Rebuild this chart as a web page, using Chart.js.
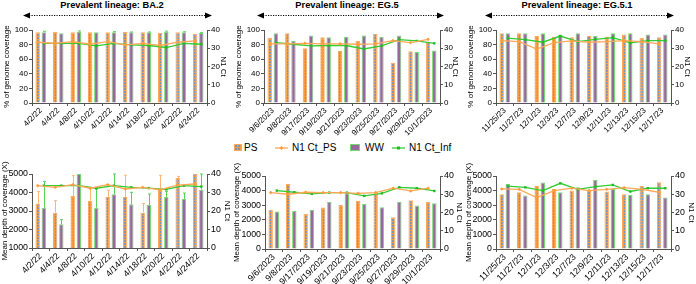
<!DOCTYPE html>
<html><head><meta charset="utf-8">
<script src="https://cdn.jsdelivr.net/npm/chart.js@4"></script>
<style>
body{margin:0;width:696px;height:284px;position:relative;overflow:hidden;background:#fff;font-family:"Liberation Sans",Arial,sans-serif;}
canvas{position:absolute;}
.title{position:absolute;top:0px;font-weight:bold;font-size:9.3px;white-space:nowrap;transform:translateX(-50%);color:#000;}
.lg{position:absolute;font-size:10px;white-space:nowrap;color:#000;line-height:10px;}
svg{position:absolute;left:0;top:0;}
</style></head>
<body>
<svg width="696" height="284" id="deco"></svg>
<div class="title" style="left:112px">Prevalent lineage: BA.2</div>
<div class="title" style="left:347px">Prevalent lineage: EG.5</div>
<div class="title" style="left:577px">Prevalent lineage: EG.5.1</div>
<div class="lg" style="left:244px;top:143px">PS</div>
<div class="lg" style="left:292px;top:143px">N1 Ct_PS</div>
<div class="lg" style="left:365px;top:143px">WW</div>
<div class="lg" style="left:409px;top:143px">N1 Ct_Inf</div>
<script>
// ---------------- DATA ----------------
const datesBA2 = ['4/2/22','4/4/22','4/8/22','4/10/22','4/12/22','4/14/22','4/18/22','4/20/22','4/22/22','4/24/22'];
const datesEG5 = ['9/6/2023','9/8/2023','9/17/2023','9/19/2023','9/21/2023','9/23/2023','9/25/2023','9/27/2023','9/29/2023','10/1/2023'];
const datesEG51 = ['11/25/23','11/27/23','12/1/23','12/3/23','12/7/23','12/9/23','12/11/23','12/13/23','12/15/23','12/17/23'];

// genome coverage (%)
const covPS_BA2 = [96.8,97.7,96.8,96.8,96.8,97.7,96.8,95.9,96.8,95];
const covWW_BA2 = [96.8,95.5,97.7,96.8,96.8,96.8,96.8,97.7,96.8,95.9];
const covWWerr_BA2 = [1.5,0,1,0,1,0.5,0.5,0.8,0.8,0.5];
const ctPS_cov_BA2 = [33.3,32.7,33.6,32.2,33.6,31.8,32.7,31.5,33.3,34];
const ctInf_cov_BA2 = [32.7,32.7,32.7,31.3,32.7,31.8,31.5,30.4,32.7,32.2];

const covPS_EG5 = [89.5,95.5,75,90,71.4,85,95,55,71,84];
const covWW_EG5 = [95.5,85,92.3,90,90.9,92.3,90.9,92.3,70,72];
const ctPS_cov_EG5 = [32.4,32.4,32.7,32.4,32.4,32.2,32.4,34.2,33.1,34.9];
const ctInf_cov_EG5 = [33.1,32.2,31.3,31.5,31.5,29.6,31.3,34.7,34,32.7];

const covPS_EG51 = [95.5,95.5,91.8,90.9,90,91.8,90.9,94,89.5,90];
const covWW_EG51 = [95.5,95.5,95.5,93,95.5,91.8,95.5,95.5,94,94];
const ctPS_cov_EG51 = [34.2,33.6,29.5,33.1,34,33.3,33.6,34.2,33.6,32.4];
const ctInf_cov_EG51 = [35.5,34.7,33.3,36.7,33.6,34.9,35.8,32.9,34.2,34.2];

// mean depth of coverage (X)
const depPS_BA2 = [3400,2910,3810,3560,3760,3760,2910,4150,4780,5000];
const depWW_BA2 = [3180,2280,5000,3180,3900,3360,3320,3760,3650,4150];
const depPSerr_BA2 = [660,650,1100,650,360,1170,490,780,90,0];
const depWWerr_BA2 = [1420,250,0,1010,1100,650,600,300,320,850];
const ctPS_dep_BA2 = [33.7,32.8,34.2,32.3,34.2,31.9,32.8,31.5,34,34.6];
const ctInf_dep_BA2 = [33.7,33.7,33.7,32.3,33.7,32.8,32.4,31.7,33.7,33.2];

const depPS_EG5 = [2680,4450,2410,2840,3020,3300,3820,2180,3340,3230];
const depWW_EG5 = [2570,2610,2680,3230,3820,3090,2860,3230,2980,3140];
const ctPS_dep_EG5 = [30.9,30,31.1,30.9,30.9,30.5,30.9,33.3,31.8,33.3];
const ctInf_dep_EG5 = [32,31.1,30.2,30.9,30.9,29.1,30.5,33.8,33.3,31.8];

const depPS_EG51 = [3750,3890,4320,4110,4000,3980,3930,3750,4320,4570];
const depWW_EG51 = [4450,3660,4550,3890,4230,4730,4110,3700,3750,3520];
const ctPS_dep_EG51 = [32.9,32.7,28.2,32,33.3,32,32.7,33.6,32.7,31.1];
const ctInf_dep_EG51 = [34.5,33.8,32,36,32.7,34.2,35.1,31.5,33.3,33.3];

const ctTicks = [0,10,20,30,40];

// ---------------- STYLE ----------------
const FONT = '"Liberation Sans", Arial, sans-serif';
const ORANGE = '#f59a40', ORANGE_LINE = '#ffa85a', GRAY_CELL = '#8793a8';
const PURPLE = '#97689b', GREEN_B = '#72dc72', GREEN_LINE = '#33cc33';
const AXIS = '#555555';
const CP = 0.7, BP = 0.72;

function makePattern(){
  const p = document.createElement('canvas'); p.width = 3; p.height = 3;
  const c = p.getContext('2d');
  c.fillStyle = GRAY_CELL; c.fillRect(0,0,3,3);
  c.fillStyle = ORANGE; c.fillRect(0,0,3,1); c.fillRect(0,0,1,3);
  return c.createPattern(p,'repeat');
}
const PAT = makePattern();

const errPlugin = {
  id:'errbars',
  afterDatasetDraw(chart, args){
    const ds = chart.data.datasets[args.index];
    if(!ds.err) return;
    const meta = args.meta, ctx = chart.ctx, ca = chart.chartArea;
    const ys = chart.scales[ds.yAxisID || 'y'];
    ctx.save();
    ctx.beginPath(); ctx.rect(ca.left, ca.top-1, ca.right-ca.left, ca.bottom-ca.top+1); ctx.clip();
    ctx.strokeStyle = ds.errColor; ctx.lineWidth = 1;
    meta.data.forEach((el,i)=>{
      const e = ds.err[i]; if(!e) return;
      const x = Math.round(el.x)+0.5, y0 = el.y, y1 = ys.getPixelForValue(meta._parsed[i].y+e);
      ctx.beginPath(); ctx.moveTo(x,y0); ctx.lineTo(x,y1);
      ctx.moveTo(x-1.5,y1); ctx.lineTo(x+1.5,y1); ctx.stroke();
    });
    ctx.restore();
  }
};

function makeChart(o){
  const cv = document.createElement('canvas');
  cv.width = o.w; cv.height = o.h;
  cv.style.left = o.left+'px'; cv.style.top = o.top+'px';
  document.body.appendChild(cv);
  const n = o.labels.length;
  const sh = CP/4;              // offset of each bar of the pair from the category centre (category units)
  const at = (arr, d) => arr.map((v,i)=>({x:i+d,y:v}));
  const tickFont = {family:FONT,size:o.tickSize};
  const titleFont = {family:FONT,size:8};
  const fmt = v => String(v);
  new Chart(cv.getContext('2d'),{
    type:'bar',
    data:{labels:o.labels,datasets:[
      {type:'bar',label:'PS',data:at(o.ps,-sh),backgroundColor:PAT,borderColor:ORANGE_LINE,borderWidth:1,
        grouped:false,categoryPercentage:1,barPercentage:BP,order:2,yAxisID:'y',xAxisID:'xl',err:o.psErr,errColor:'#ffb574'},
      {type:'bar',label:'WW',data:at(o.ww,sh),backgroundColor:PURPLE,borderColor:GREEN_B,borderWidth:1,
        grouped:false,categoryPercentage:1,barPercentage:BP,order:2,yAxisID:'y',xAxisID:'xl',err:o.wwErr,errColor:'#55d455'},
      {type:'line',label:'N1 Ct_PS',data:at(o.ctPS,-sh),borderColor:ORANGE_LINE,backgroundColor:'#ff9d3c',
        borderWidth:1.3,pointStyle:'rectRot',pointRadius:1.8,pointBorderWidth:0,order:1,yAxisID:'y2',xAxisID:'xl',tension:0},
      {type:'line',label:'N1 Ct_Inf',data:at(o.ctInf,sh),borderColor:GREEN_LINE,backgroundColor:'#22bb22',
        borderWidth:1.3,pointStyle:'rect',pointRadius:1.7,pointBorderWidth:0,order:1,yAxisID:'y2',xAxisID:'xl',tension:0}
    ]},
    options:{
      responsive:false,animation:false,devicePixelRatio:1,
      layout:{padding:{top:o.padTop,left:0,right:0,bottom:0}},
      plugins:{legend:{display:false},tooltip:{enabled:false},title:{display:false}},
      scales:{
        x:{type:'category',offset:true,position:'bottom',
          grid:{drawOnChartArea:false,drawTicks:true,tickLength:3,color:AXIS},
          border:{color:AXIS,width:1},
          ticks:{autoSkip:false,minRotation:45,maxRotation:45,padding:0,color:'#000',font:tickFont},
          afterFit:s=>{s.height=o.xH;}},
        xl:{type:'linear',display:false,min:-0.5,max:n-0.5,offset:false},
        y:{position:'left',min:o.ymin,max:o.ymax,
          grid:{drawOnChartArea:false,drawTicks:true,tickLength:3,color:AXIS},
          border:{color:AXIS,width:1},
          ticks:{stepSize:o.ystep,padding:1,color:'#000',font:tickFont,callback:fmt},
          title:{display:true,text:o.ytitle,color:'#000',font:titleFont,padding:{top:o.ltPad,bottom:0}},
          afterFit:s=>{s.width=o.lW;}},
        y2:{position:'right',min:0,max:40,
          grid:{drawOnChartArea:false,drawTicks:true,tickLength:3,color:AXIS},
          border:{color:AXIS,width:1},
          afterBuildTicks:s=>{s.ticks=ctTicks.map(v=>({value:v}));},
          ticks:{padding:1,color:'#000',font:tickFont,callback:fmt},
          title:{display:true,text:'N1 Ct',color:'#000',font:titleFont,padding:{top:o.rtPad,bottom:0}},
          afterFit:s=>{s.width=o.rW;}}
      }
    },
    plugins:[errPlugin]
  });
}

const TOP = {top:18,h:127,padTop:12,xH:42,ymin:0,ymax:100,ystep:20,ytitle:'% of genome coverage',tickSize:8,ltPad:2,rtPad:4};
const BOT = {top:158,h:126,xH:35,ymax:5000,ystep:1000,ytitle:'Mean depth of coverage (X)',tickSize:8.8,ltPad:0,rtPad:0};

makeChart(Object.assign({},TOP,{left:0,w:232,lW:32,rW:25,labels:datesBA2,ps:covPS_BA2,ww:covWW_BA2,wwErr:covWWerr_BA2,ctPS:ctPS_cov_BA2,ctInf:ctInf_cov_BA2}));
makeChart(Object.assign({},TOP,{left:232,w:232,lW:32,rW:24,labels:datesEG5,ps:covPS_EG5,ww:covWW_EG5,ctPS:ctPS_cov_EG5,ctInf:ctInf_cov_EG5}));
makeChart(Object.assign({},TOP,{left:464,w:232,lW:32,rW:25,labels:datesEG51,ps:covPS_EG51,ww:covWW_EG51,ctPS:ctPS_cov_EG51,ctInf:ctInf_cov_EG51}));
makeChart(Object.assign({},BOT,{left:0,w:232,lW:32,rW:25,padTop:16,xH:36,ymin:1000,labels:datesBA2,ps:depPS_BA2,ww:depWW_BA2,psErr:depPSerr_BA2,wwErr:depWWerr_BA2,ctPS:ctPS_dep_BA2,ctInf:ctInf_dep_BA2}));
makeChart(Object.assign({},BOT,{left:232,w:232,lW:33,rW:24,padTop:18,ymin:0,labels:datesEG5,ps:depPS_EG5,ww:depWW_EG5,ctPS:ctPS_dep_EG5,ctInf:ctInf_dep_EG5}));
makeChart(Object.assign({},BOT,{left:464,w:232,lW:32,rW:25,padTop:18,ymin:0,labels:datesEG51,ps:depPS_EG51,ww:depWW_EG51,ctPS:ctPS_dep_EG51,ctInf:ctInf_dep_EG51}));

// ---------------- decorations: arrows + legend swatches ----------------
(function(){
  const svg = document.getElementById('deco');
  const NS = 'http://www.w3.org/2000/svg';
  function el(tag, attrs){ const e = document.createElementNS(NS, tag); for(const k in attrs) e.setAttribute(k, attrs[k]); svg.appendChild(e); return e; }
  [[23,212],[257,444],[485,674]].forEach(([a,b])=>{
    const y = 15.5;
    el('line',{x1:a+6,y1:y,x2:b-6,y2:y,stroke:'#000','stroke-width':1,'stroke-dasharray':'1.2,1.3'});
    el('polygon',{points:`${a},${y} ${a+7},${y-3} ${a+7},${y+3}`,fill:'#000'});
    el('polygon',{points:`${b},${y} ${b-7},${y-3} ${b-7},${y+3}`,fill:'#000'});
  });
  const defs = el('defs',{});
  const pat = document.createElementNS(NS,'pattern');
  pat.setAttribute('id','chk'); pat.setAttribute('width','3'); pat.setAttribute('height','3'); pat.setAttribute('patternUnits','userSpaceOnUse');
  pat.innerHTML = `<rect width="3" height="3" fill="${GRAY_CELL}"/><rect width="3" height="1" fill="${ORANGE}"/><rect width="1" height="3" fill="${ORANGE}"/>`;
  defs.appendChild(pat);
  el('rect',{x:234.5,y:144.5,width:7,height:6,fill:'url(#chk)',stroke:ORANGE_LINE,'stroke-width':1});
  el('line',{x1:275,y1:148,x2:288,y2:148,stroke:ORANGE_LINE,'stroke-width':1.3});
  el('polygon',{points:'281.5,146 283.5,148 281.5,150 279.5,148',fill:'#ff9d3c'});
  el('rect',{x:350.5,y:144.5,width:9,height:6,fill:PURPLE,stroke:GREEN_B,'stroke-width':1});
  el('line',{x1:392,y1:148,x2:405,y2:148,stroke:GREEN_LINE,'stroke-width':1.3});
  el('rect',{x:397,y:146.5,width:3,height:3,fill:'#22bb22'});
})();
</script>
</body></html>
